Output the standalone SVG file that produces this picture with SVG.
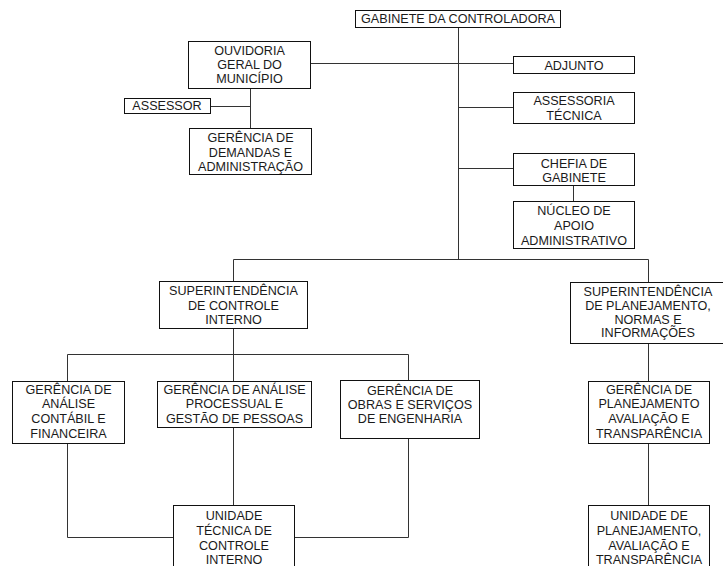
<svg xmlns="http://www.w3.org/2000/svg" width="723" height="566" viewBox="0 0 723 566">
<style>
.box{fill:#fff;stroke:#111;stroke-width:1}
.t{font-family:"Liberation Sans",Arial,sans-serif;font-size:12.6px;fill:#1a1a1a;text-anchor:middle}
.c{fill:none;stroke:#333;stroke-width:1}
</style>
<rect width="723" height="566" fill="#fff"/>
<g id="connectors">
<path class="c" d="M458.5 27V259.5"/>
<path class="c" d="M311 63.5H513"/>
<path class="c" d="M458.5 107.5H513"/>
<path class="c" d="M458.5 168.5H513"/>
<path class="c" d="M573.5 185V201"/>
<path class="c" d="M250.5 88V128"/>
<path class="c" d="M210 106.5H250.5"/>
<path class="c" d="M233.5 281V259.5H648.5V282"/>
<path class="c" d="M233.5 328V381"/>
<path class="c" d="M67.5 381V354.5H408.5V380"/>
<path class="c" d="M67.5 443V537.5H173"/>
<path class="c" d="M233.5 427V505"/>
<path class="c" d="M408.5 438V537.5H295"/>
<path class="c" d="M648.5 343V381"/>
<path class="c" d="M648.5 443V505"/>
</g>
<g id="gabinete">
<rect class="box" x="355.5" y="10.5" width="205" height="17"/>
<text class="t" x="458" y="23">GABINETE DA CONTROLADORA</text>
</g>
<g id="ouvidoria">
<rect class="box" x="188.5" y="41.5" width="122" height="47"/>
<text class="t" x="249.5" y="55">OUVIDORIA</text>
<text class="t" x="249.5" y="69">GERAL DO</text>
<text class="t" x="249.5" y="83">MUNICÍPIO</text>
</g>
<g id="adjunto">
<rect class="box" x="513.5" y="56.5" width="121" height="17"/>
<text class="t" x="574" y="69.5">ADJUNTO</text>
</g>
<g id="assessor">
<rect class="box" x="124.5" y="98.5" width="86" height="15"/>
<text class="t" x="167" y="110">ASSESSOR</text>
</g>
<g id="assessoria-tecnica">
<rect class="box" x="513.5" y="92.5" width="121" height="31"/>
<text class="t" x="574" y="105">ASSESSORIA</text>
<text class="t" x="574" y="119.5">TÉCNICA</text>
</g>
<g id="gerencia-demandas">
<rect class="box" x="189.5" y="128.5" width="122" height="46"/>
<text class="t" x="250.5" y="142">GERÊNCIA DE</text>
<text class="t" x="250.5" y="156.5">DEMANDAS E</text>
<text class="t" x="250.5" y="171">ADMINISTRAÇÃO</text>
</g>
<g id="chefia">
<rect class="box" x="513.5" y="153.5" width="121" height="32"/>
<text class="t" x="574" y="168">CHEFIA DE</text>
<text class="t" x="574" y="182">GABINETE</text>
</g>
<g id="nucleo">
<rect class="box" x="513.5" y="201.5" width="121" height="47"/>
<text class="t" x="574" y="215">NÚCLEO DE</text>
<text class="t" x="574" y="230">APOIO</text>
<text class="t" x="574" y="245">ADMINISTRATIVO</text>
</g>
<g id="superintendencia-ci">
<rect class="box" x="159.5" y="281.5" width="148" height="47"/>
<text class="t" x="233.5" y="295">SUPERINTENDÊNCIA</text>
<text class="t" x="233.5" y="310">DE CONTROLE</text>
<text class="t" x="233.5" y="324">INTERNO</text>
</g>
<g id="superintendencia-pni">
<rect class="box" x="570.5" y="282.5" width="156" height="61"/>
<text class="t" x="648" y="296">SUPERINTENDÊNCIA</text>
<text class="t" x="648" y="310">DE PLANEJAMENTO,</text>
<text class="t" x="648" y="323.5">NORMAS E</text>
<text class="t" x="648" y="337">INFORMAÇÕES</text>
</g>
<g id="gerencia-contabil">
<rect class="box" x="12.5" y="381.5" width="112" height="62"/>
<text class="t" x="68.5" y="393.5">GERÊNCIA DE</text>
<text class="t" x="68.5" y="408">ANÁLISE</text>
<text class="t" x="68.5" y="423">CONTÁBIL E</text>
<text class="t" x="68.5" y="438">FINANCEIRA</text>
</g>
<g id="gerencia-processual">
<rect class="box" x="157.5" y="381.5" width="154" height="46"/>
<text class="t" x="234.5" y="393.5">GERÊNCIA DE ANÁLISE</text>
<text class="t" x="234.5" y="408">PROCESSUAL E</text>
<text class="t" x="234.5" y="422.5">GESTÃO DE PESSOAS</text>
</g>
<g id="gerencia-obras">
<rect class="box" x="340.5" y="380.5" width="139" height="58"/>
<text class="t" x="410" y="394.5">GERÊNCIA DE</text>
<text class="t" x="410" y="408.5">OBRAS E SERVIÇOS</text>
<text class="t" x="410" y="423">DE ENGENHARIA</text>
</g>
<g id="gerencia-planejamento">
<rect class="box" x="588.5" y="381.5" width="121" height="62"/>
<text class="t" x="649" y="393.5">GERÊNCIA DE</text>
<text class="t" x="649" y="408">PLANEJAMENTO</text>
<text class="t" x="649" y="423">AVALIAÇÃO E</text>
<text class="t" x="649" y="438">TRANSPARÊNCIA</text>
</g>
<g id="unidade-tecnica">
<rect class="box" x="173.5" y="505.5" width="121" height="70"/>
<text class="t" x="234" y="520">UNIDADE</text>
<text class="t" x="234" y="535">TÉCNICA DE</text>
<text class="t" x="234" y="550">CONTROLE</text>
<text class="t" x="234" y="564">INTERNO</text>
</g>
<g id="unidade-planejamento">
<rect class="box" x="588.5" y="505.5" width="121" height="70"/>
<text class="t" x="649" y="520">UNIDADE DE</text>
<text class="t" x="649" y="535">PLANEJAMENTO,</text>
<text class="t" x="649" y="549.5">AVALIAÇÃO E</text>
<text class="t" x="649" y="564">TRANSPARÊNCIA</text>
</g>
</svg>
